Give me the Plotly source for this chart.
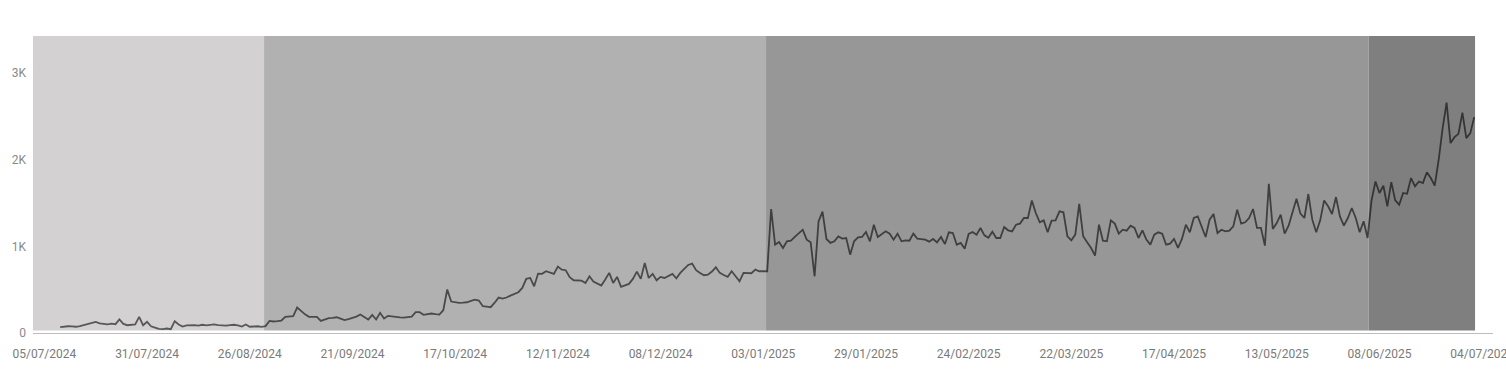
import pandas as pd
import plotly.graph_objects as go

# ---- data (daily values) ----
start_date = "2024-07-09"

zone1_values = [67, 75, 78, 76, 72, 80, 92, 106, 115, 129, 112, 105, 100, 108, 102, 156,
                105, 90, 98, 100, 187, 90, 129, 78, 63, 48, 44, 52, 44, 136, 98, 75, 88,
                90, 92, 85, 95, 88, 90, 100, 92, 88, 85, 92, 95, 88, 75, 98, 72, 75, 78, 72]

zone2_values = [80, 140, 133, 138, 144, 187, 190, 194, 294, 252, 215, 187, 185, 187, 140,
                160, 171, 175, 182, 165, 148, 160, 171, 190, 213, 187, 156, 210, 156, 233,
                167, 198, 190, 182, 180, 178, 185, 190, 240, 240, 210, 215, 225, 218, 213,
                263, 502, 363, 355, 348, 350, 355, 370, 386, 375, 310, 305, 298, 350, 409,
                398, 410, 432, 450, 471, 521, 625, 636, 540, 686, 683, 713, 700, 683, 767,
                732, 725, 644, 609, 605, 605, 578, 655, 594, 570, 548, 617, 694, 578, 648,
                532, 550, 567, 625, 709, 625, 809, 636, 683, 609, 648, 636, 660, 683, 632,
                694, 740, 786, 801, 725, 694, 667, 674, 710, 759, 694, 670, 648, 713, 655,
                598, 694, 694, 690, 732, 713, 713, 713]

zone3_values = [1432, 1020, 1051, 982, 1059, 1066, 1109, 1150, 1193, 1078, 1047, 655, 1289,
                1401, 1086, 1040, 1059, 1116, 1090, 1097, 905, 1059, 1105, 1109, 1167, 1059,
                1251, 1109, 1144, 1174, 1147, 1078, 1147, 1059, 1070, 1066, 1147, 1090, 1085,
                1078, 1055, 1086, 1047, 1109, 1028, 1163, 1155, 1020, 1040, 974, 1144, 1167,
                1136, 1213, 1128, 1100, 1170, 1097, 1097, 1224, 1186, 1174, 1251, 1263, 1328,
                1328, 1531, 1386, 1278, 1301, 1163, 1297, 1301, 1405, 1394, 1117, 1070, 1136,
                1490, 1117, 1047, 982, 894, 1251, 1066, 1059, 1301, 1263, 1147, 1193, 1182,
                1240, 1213, 1097, 1186, 1078, 1020, 1136, 1163, 1147, 1020, 1032, 1086, 982,
                1086, 1251, 1163, 1328, 1347, 1232, 1109, 1309, 1374, 1155, 1193, 1174, 1182,
                1232, 1424, 1263, 1278, 1328, 1432, 1213, 1213, 1009, 1724, 1201, 1270, 1366,
                1147, 1240, 1386, 1551, 1378, 1328, 1605, 1309, 1163, 1301, 1531, 1463, 1374,
                1570, 1347, 1240, 1328, 1444, 1328, 1163, 1290, 1097]

zone4_values = [1531, 1750, 1617, 1701, 1463, 1743, 1531, 1482, 1617, 1608, 1790, 1693,
                1750, 1732, 1855, 1790, 1701, 2001, 2366, 2661, 2193, 2262, 2300, 2546,
                2251, 2308, 2493]

# background period boundaries
zone_edges = ["2024-07-02T03:00", "2024-08-29T15:00", "2025-01-03T17:00",
              "2025-06-05T07:00", "2025-07-02T05:00"]
zone_colors = ["#d3d1d2", "#b2b1b2", "#989798", "#7f7f7f"]

x_range = ["2024-07-02T03:00", "2025-07-06T18:00"]
y_range = [0, 3430]
x_tickvals = ["2024-07-05", "2024-07-31", "2024-08-26", "2024-09-21", "2024-10-17",
              "2024-11-12", "2024-12-08", "2025-01-03", "2025-01-29", "2025-02-24",
              "2025-03-22", "2025-04-17", "2025-05-13", "2025-06-08", "2025-07-04"]
y_tickvals = [0, 1000, 2000, 3000]
y_ticktext = ["0", "1K", "2K", "3K"]

values = zone1_values + zone2_values + zone3_values + zone4_values
dates = pd.date_range(start_date, periods=len(values), freq="D")

fig = go.Figure()
fig.add_trace(go.Scatter(
    x=dates, y=values, mode="lines",
    line=dict(color="rgba(0,0,0,0.58)", width=1.8),
    hoverinfo="x+y", showlegend=False,
))

for i, c in enumerate(zone_colors):
    fig.add_shape(type="rect", xref="x", yref="paper",
                  x0=zone_edges[i], x1=zone_edges[i + 1], y0=0.0085, y1=1,
                  fillcolor=c, line=dict(width=0), layer="below")

fig.update_layout(
    width=1506, height=375,
    margin=dict(l=33, r=13, t=36, b=41.5),
    paper_bgcolor="white", plot_bgcolor="white",
    font=dict(family="Roboto, Arial, sans-serif", size=12, color="#7a7a7a"),
    xaxis=dict(
        type="date", range=x_range, tickvals=x_tickvals, tickformat="%d/%m/%Y",
        showgrid=False, zeroline=False, showline=True, linecolor="#bdbdbd", linewidth=1,
        ticks="", ticklabelstandoff=10, ticklabeloverflow="allow", automargin=False,
        tickfont=dict(size=12, color="#7a7a7a"),
    ),
    yaxis=dict(
        range=y_range, tickvals=y_tickvals, ticktext=y_ticktext,
        showgrid=False, zeroline=False, showline=False,
        ticks="", ticklabelstandoff=6, automargin=False,
        tickfont=dict(size=12, color="#8a8a8a"),
    ),
)

fig.write_html("out.html")
